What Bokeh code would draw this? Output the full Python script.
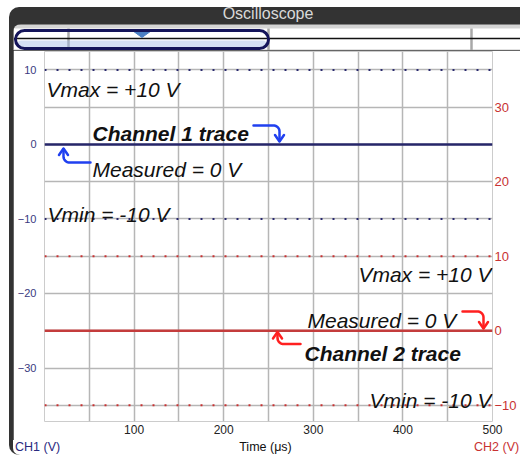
import numpy as np
from bokeh.plotting import figure
from bokeh.models import Range1d, LinearAxis, FixedTicker, Div, BoxAnnotation
from bokeh.layouts import column
from bokeh.embed import file_html
from bokeh.resources import INLINE
from bokeh.core.properties import value

# ---------------- data ----------------
time_us = [0, 500]            # time axis extent (µs)
ch1_trace = [0, 0]            # CH1 measured (V)
ch2_trace = [0, 0]            # CH2 measured (V)
ch1_vmax, ch1_vmin = 10, -10
ch2_vmax, ch2_vmin = 10, -10
time_ticks = [100, 200, 300, 400, 500]
time_grid = [50, 100, 150, 200, 250, 300, 350, 400, 450, 500]
ch1_ticks = [10, 0, -10, -20, -30]
ch1_grid = [10, 5, 0, -5, -10, -15, -20, -25, -30, -35]
ch2_ticks = [30, 20, 10, 0, -10]
ch2_offset = 25               # CH2 scale = CH1 scale + 25 V
nav_ticks = [55, 255, 458]
nav_window = (2, 255)

# ---------------- geometry (page pixels) ----------------
PAGE_X0, PAGE_Y0 = 9, 7        # panel top-left corner
PANEL_W = 511
HEADER_H, NAV_H, MAIN_H, FOOT_H = 17, 26, 390, 15
BORDER = 4
Y_TOP, Y_BOT = 12.48, -37.18
FIG_X = PAGE_X0 + BORDER
FIG_Y = PAGE_Y0 + HEADER_H + NAV_H
MAIN_W = PANEL_W - BORDER
FRAME_L, FRAME_T = 44, 51
FRAME_W, FRAME_H = 448, 370
SX = FRAME_W / (time_us[1] - time_us[0])
SY = FRAME_H / (Y_TOP - Y_BOT)

def px2x(px):
    return (np.asarray(px, dtype=float) - FRAME_L) / SX

def px2y(py):
    return Y_TOP - (np.asarray(py, dtype=float) - FRAME_T) / SY

FONT = "Liberation Sans"
NAVY = "#2a2a6e"
RED = "#c83232"
BLUE_ARROW = "#2040f0"
RED_ARROW = "#ff2020"

# ---------------- main figure ----------------
p = figure(width=MAIN_W, height=MAIN_H, title=None,
           x_range=Range1d(time_us[0], time_us[1]),
           y_range=Range1d(Y_BOT, Y_TOP),
           output_backend="svg", toolbar_location=None,
           min_border_left=FRAME_L - FIG_X,
           min_border_right=MAIN_W - (FRAME_L - FIG_X) - FRAME_W,
           min_border_top=FRAME_T - FIG_Y,
           min_border_bottom=MAIN_H - (FRAME_T - FIG_Y) - FRAME_H,
           margin=(0, 0, 0, BORDER), frame_align=False)
p.outline_line_color = None
p.background_fill_color = "white"
p.border_fill_color = "white"
p.extra_y_ranges = {"ch2": Range1d(Y_BOT + ch2_offset, Y_TOP + ch2_offset)}

p.xgrid.ticker = FixedTicker(ticks=time_grid)
p.ygrid.ticker = FixedTicker(ticks=ch1_grid)
p.grid.grid_line_color = "#b6b6b6"
p.grid.grid_line_width = 1.5

for ax in [p.xaxis[0], p.yaxis[0]]:
    ax.axis_line_color = None
    ax.major_tick_line_color = None
    ax.minor_tick_line_color = None
    ax.major_tick_out = 0
    ax.major_label_text_font = FONT

p.xaxis.ticker = FixedTicker(ticks=time_ticks)
p.xaxis.major_label_standoff = 3
p.xaxis.major_label_text_font_size = "12px"
p.xaxis.major_label_text_color = "#222222"

p.yaxis.ticker = FixedTicker(ticks=ch1_ticks)
p.yaxis.major_label_standoff = 8
p.yaxis.major_label_text_font_size = "11px"
p.yaxis.major_label_text_color = "#3a3a80"

ax2 = LinearAxis(y_range_name="ch2", ticker=FixedTicker(ticks=ch2_ticks))
ax2.axis_line_color = None
ax2.major_tick_line_color = None
ax2.minor_tick_line_color = None
ax2.major_tick_out = 0
ax2.major_label_standoff = 2
ax2.major_label_text_font = FONT
ax2.major_label_text_font_size = "13px"
ax2.major_label_text_color = RED
p.add_layout(ax2, "right")

# reference limit lines (dotted)
p.line(time_us, [ch1_vmax] * 2, line_color=NAVY, line_width=2, line_dash="2 10")
p.line(time_us, [ch1_vmin] * 2, line_color=NAVY, line_width=2, line_dash="2 10")
p.line(time_us, [ch2_vmax] * 2, y_range_name="ch2", line_color=RED, line_width=2, line_dash="2 10")
p.line(time_us, [ch2_vmin] * 2, y_range_name="ch2", line_color=RED, line_width=2, line_dash="2 10")

# traces
p.line(time_us, ch1_trace, line_color="#26266a", line_width=2.5)
p.line(time_us, ch2_trace, y_range_name="ch2", line_color="#c43c3c", line_width=2.5)

# annotation texts (page px anchors -> data)
ann = [
    ("Vmax = +10 V", 46, 89, "left", "italic"),
    ("Channel 1 trace", 92, 133, "left", "bold italic"),
    ("Measured = 0 V", 92, 168.5, "left", "italic"),
    ("Vmin = -10 V", 47, 214, "left", "italic"),
    ("Vmax = +10 V", 491, 274, "right", "italic"),
    ("Measured = 0 V", 307, 320, "left", "italic"),
    ("Channel 2 trace", 304, 353, "left", "bold italic"),
    ("Vmin = -10 V", 491, 400, "right", "italic"),
]
for txt, ax_, ay_, al, st in ann:
    p.text(x=[float(px2x(ax_))], y=[float(px2y(ay_))], text=[txt],
           text_font=value(FONT), text_font_size="21px", text_font_style=st,
           text_align=al, text_baseline="alphabetic", text_color="#111111")

# bent arrows
def hook(x0, y0, x1, y1, r=6.0, n=12):
    dx = 1 if x1 > x0 else -1
    dy = 1 if y1 > y0 else -1
    cx, cy = x1 - dx * r, y0 + dy * r
    t = np.linspace(0, np.pi / 2, n)
    xs = [x0, *(cx + dx * r * np.sin(t)), x1]
    ys = [y0, *(cy - dy * r * np.cos(t)), y1]
    hx = [x1 - 4.5, x1, x1 + 4.5]
    hy = [y1 - dy * 6, y1 + dy * 0.5, y1 - dy * 6]
    return px2x(xs), px2y(ys), px2x(hx), px2y(hy)

arrows = [
    ((253, 125, 279, 140.5), BLUE_ARROW),
    ((90, 162, 63, 148.5), BLUE_ARROW),
    ((462, 311, 483, 327.5), RED_ARROW),
    ((300, 343.5, 277, 332), RED_ARROW),
]
for (x0, y0, x1, y1), col in arrows:
    xs, ys, hx, hy = hook(x0, y0, x1, y1)
    p.line(xs, ys, line_color=col, line_width=2.5, line_cap="round", line_join="round")
    p.line(hx, hy, line_color=col, line_width=2.5, line_cap="round", line_join="round")

# ---------------- navigator strip ----------------
nav = figure(width=MAIN_W, height=NAV_H, title=None, x_range=Range1d(0, MAIN_W), y_range=Range1d(0, NAV_H),
             output_backend="svg", toolbar_location=None,
             min_border=0, min_border_left=0, min_border_right=0, min_border_top=0, min_border_bottom=0,
             margin=(0, 0, 0, BORDER), frame_align=False,
             styles={"border-top-left-radius": "8px", "overflow": "hidden"})
nav.axis.visible = False
nav.grid.visible = False
nav.outline_line_color = None
nav.background_fill_color = "#d4d4d4"
nav.border_fill_color = "#d4d4d4"
nav.quad(left=[0.5], right=[MAIN_W], bottom=[0], top=[22], fill_color="white", line_color=None)
nav.line([0, MAIN_W], [0.5, 0.5], line_color="#c4c4c4", line_width=1)
nav.segment(x0=nav_ticks, y0=[0] * 3, x1=nav_ticks, y1=[22] * 3, line_color="#a8a8a8", line_width=2.5)
nav.add_layout(BoxAnnotation(left=nav_window[0] + 2, right=nav_window[1] - 2, bottom=3, top=10,
                             border_radius=5, fill_color="#9fb8e6", fill_alpha=0.45,
                             line_alpha=0))
nav.line([0.5, MAIN_W], [12, 12], line_color="#111111", line_width=1.5)
nav.add_layout(BoxAnnotation(left=nav_window[0], right=nav_window[1], bottom=2, top=20,
                             border_radius=9, fill_alpha=0, line_alpha=1,
                             line_color="#14145a", line_width=3))
mid = (nav_window[0] + nav_window[1]) / 2
nav.patch([mid - 9, mid + 9, mid], [19.5, 19.5, 13], fill_color="#4a7fc4", line_color="#4a7fc4")

# ---------------- header and footer ----------------
header = Div(text="Oscilloscope", width=PANEL_W, height=HEADER_H, margin=0,
             styles={"color": "#d9d9d9", "font-family": FONT, "font-size": "16px",
                     "line-height": "14px", "text-align": "center", "text-indent": "7px"})

foot_html = (
    '<div style="position:relative;width:%dpx;height:%dpx;">'
    '<div style="position:absolute;left:2px;top:0;color:#2a2a80;">CH1 (V)</div>'
    '<div style="position:absolute;left:0;top:0;width:505px;text-align:center;color:#111111;">Time (μs)</div>'
    '<div style="position:absolute;left:461px;top:0;color:%s;white-space:nowrap;">CH2 (V)</div>'
    '</div>' % (MAIN_W, FOOT_H, RED)
)
footer = Div(text=foot_html, width=MAIN_W, height=FOOT_H, margin=(0, 0, 0, BORDER),
             styles={"background-color": "white", "font-family": FONT, "font-size": "12.5px",
                     "line-height": "15px", "overflow": "hidden",
                     "border-bottom-left-radius": "7px"})

layout = column(header, nav, p, footer, spacing=0, margin=(PAGE_Y0, 0, 0, PAGE_X0),
                styles={"background-color": "#333333", "border-top-left-radius": "10px",
                        "border-bottom-left-radius": "10px"})

open("out.html", "w").write(file_html(layout, INLINE))
